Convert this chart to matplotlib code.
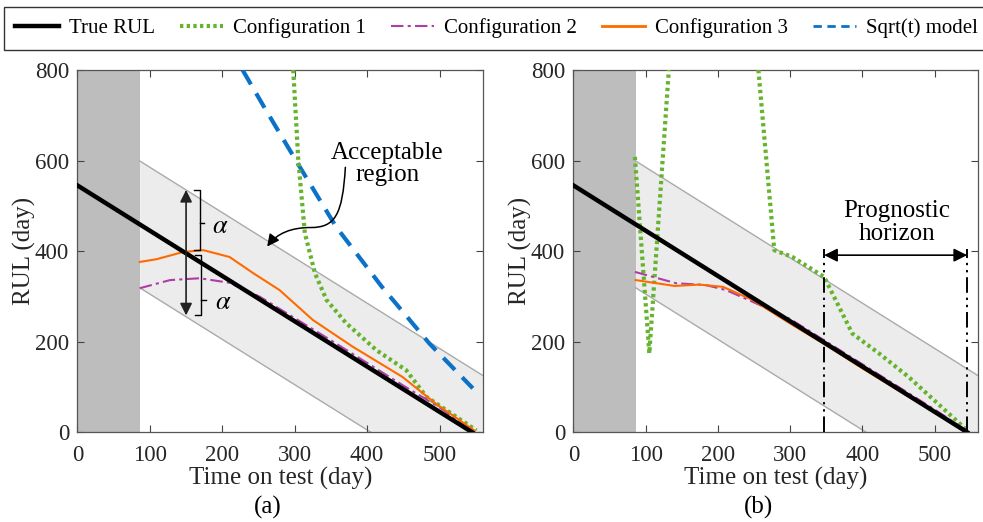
import numpy as np
import matplotlib
matplotlib.use("Agg")
import matplotlib.pyplot as plt
from matplotlib.path import Path
from matplotlib.patches import FancyArrowPatch
from matplotlib.lines import Line2D

plt.rcParams['font.family'] = ['Liberation Serif', 'DejaVu Serif']
plt.rcParams['mathtext.fontset'] = 'stix'

# ---------------- data ----------------
t_true = [0, 545]
rul_true = [545, 0]
alpha = 140
t_band = [86, 560]
t_train_end = 86

xticks = [0, 100, 200, 300, 400, 500]
yticks = [0, 200, 400, 600, 800]

# panel (a)
a_c1_t = [298, 305, 314, 328, 344, 371, 413, 454, 482, 551]
a_c1_y = [800, 601, 440, 351, 292, 241, 181, 137, 78, 4]
a_c2_t = [86, 128, 169, 210, 252, 300, 350, 400, 450, 500, 548]
a_c2_y = [318, 336, 340, 330, 299, 252, 203, 153, 103, 55, 0]
a_c3_t = [86, 109, 146, 174, 210, 243, 279, 325, 380, 449, 463, 495, 548]
a_c3_y = [376, 382, 398, 402, 387, 351, 314, 248, 189, 122, 104, 63, 4]
a_sq_t = [228, 260, 307, 357, 420, 486, 546]
a_sq_y = [800, 712, 586, 454, 322, 196, 97]

# panel (b)
b_c1_t = [85, 105, 132, np.nan, 256, 278, 303, 347, 386, 423, 464, 545]
b_c1_y = [608, 174, 800, np.nan, 800, 402, 387, 343, 218, 174, 122, 4]
b_c2_t = [85, 142, 183, 211, 248, 300, 350, 400, 450, 500, 545]
b_c2_y = [354, 329, 325, 314, 288, 250, 200, 150, 100, 50, 3]
b_c3_t = [86, 140, 174, 207, 248, 300, 350, 400, 450, 500, 545]
b_c3_y = [336, 323, 326, 321, 292, 240, 192, 141, 92, 44, 0]
horizon_t = [347, 545]

legend_labels = ['True RUL', 'Configuration 1', 'Configuration 2',
                 'Configuration 3', 'Sqrt(t) model']

# ---------------- styles ----------------
C_TRUE = 'black'
C_C1 = '#66B32E'
C_C2 = '#B03CA8'
C_C3 = '#FF6A00'
C_SQ = '#0B72C8'
FS_LEG = 15
FS_TICK = 16.5
FS_LAB = 18
FS_TXT = 18

fig = plt.figure(figsize=(9.83, 5.22), dpi=100)
axa = fig.add_axes([0.0788, 0.172, 0.4125, 0.694])
axb = fig.add_axes([0.5834, 0.172, 0.4115, 0.694])


def base(ax):
    ax.set_xlim(0, 560)
    ax.set_ylim(0, 800)
    ax.axvspan(0, t_train_end, color='#bdbdbd', lw=0, zorder=0)
    tb = np.array(t_band, dtype=float)
    slope = (rul_true[1] - rul_true[0]) / (t_true[1] - t_true[0])
    true_at = rul_true[0] + slope * (tb - t_true[0])
    ax.fill_between(tb, true_at - alpha, true_at + alpha, color='#ececec', lw=0, zorder=0.5)
    ax.plot(tb, true_at + alpha, color='#aaaaaa', lw=1, zorder=1)
    ax.plot(tb, true_at - alpha, color='#aaaaaa', lw=1, zorder=1)
    ax.set_xticks(xticks)
    ax.set_yticks(yticks)
    ax.tick_params(direction='in', top=True, right=True, length=5, labelsize=FS_TICK,
                   color='#444444', labelcolor='#262626')
    ax.tick_params(axis='x', pad=9)
    ax.tick_params(axis='y', pad=6)
    for s in ax.spines.values():
        s.set_color('#555555')
        s.set_linewidth(0.9)
    ax.set_xlabel('Time on test (day)', fontsize=FS_LAB, labelpad=1, color='#262626')
    ax.set_ylabel('RUL (day)', fontsize=FS_LAB, labelpad=-1, color='#262626')


base(axa)
base(axb)

# panel (a)
axa.plot(a_sq_t, a_sq_y, color=C_SQ, lw=3, ls=(0, (4, 2.5)), zorder=3)
axa.plot(a_c1_t, a_c1_y, color=C_C1, lw=3, ls=(0, (0.8, 0.8)), zorder=3)
axa.plot(a_c2_t, a_c2_y, color=C_C2, lw=1.5, ls=(0, (6, 2, 1.5, 2)), zorder=3)
axa.plot(a_c3_t, a_c3_y, color=C_C3, lw=1.5, zorder=3)
axa.plot(t_true, rul_true, color=C_TRUE, lw=3.2, zorder=4)

# alpha arrow and brackets
axa.annotate('', xy=(150, 535), xytext=(150, 258),
             arrowprops=dict(arrowstyle='<|-|>', color='#222222', lw=1.2,
                             mutation_scale=18, shrinkA=0, shrinkB=0), zorder=5)
axa.plot([161, 169, 169, 161], [535, 535, 402, 402], color='black', lw=1, zorder=5)
axa.plot([169, 175], [462, 462], color='black', lw=1, zorder=5)
axa.plot([163, 171, 171, 163], [391, 391, 259, 259], color='black', lw=1, zorder=5)
axa.plot([171, 177], [292, 292], color='black', lw=1, zorder=5)
axa.text(197, 454, r'$\alpha$', fontsize=FS_TXT + 1, ha='center', va='center', zorder=6)
axa.text(201, 285, r'$\alpha$', fontsize=FS_TXT + 1, ha='center', va='center', zorder=6)

axa.text(428, 592, 'Acceptable\nregion', fontsize=FS_TXT, ha='center', va='center',
         linespacing=1.0, zorder=6)
verts = [(370, 585), (366, 480), (356, 452), (322, 452),
         (296, 452), (276, 440), (262, 410)]
codes = [Path.MOVETO, Path.CURVE4, Path.CURVE4, Path.CURVE4,
         Path.CURVE4, Path.CURVE4, Path.CURVE4]
arr = FancyArrowPatch(path=Path(verts, codes), arrowstyle='-|>', mutation_scale=18,
                      color='black', lw=1.1, zorder=6)
axa.add_patch(arr)

# panel (b)
axb.plot(b_c1_t, b_c1_y, color=C_C1, lw=3, ls=(0, (0.8, 0.8)), zorder=3)
axb.plot(b_c2_t, b_c2_y, color=C_C2, lw=1.5, ls=(0, (6, 2, 1.5, 2)), zorder=3)
axb.plot(b_c3_t, b_c3_y, color=C_C3, lw=1.5, zorder=3)
axb.plot(t_true, rul_true, color=C_TRUE, lw=3.2, zorder=4)
for th in horizon_t:
    axb.plot([th, th], [0, 405], color='black', lw=1.4,
             ls=(0, (8, 2.5, 1.2, 2.5, 1.2, 2.5)), zorder=5)
axb.annotate('', xy=(horizon_t[0], 391), xytext=(horizon_t[1], 391),
             arrowprops=dict(arrowstyle='<|-|>', color='black', lw=1.2,
                             mutation_scale=20, shrinkA=0, shrinkB=0), zorder=5)
axb.text(448, 463, 'Prognostic\nhorizon', fontsize=FS_TXT, ha='center', va='center',
         linespacing=1.1, zorder=6)

fig.text(0.272, 0.028, '(a)', fontsize=FS_LAB, ha='center', va='center')
fig.text(0.772, 0.028, '(b)', fontsize=FS_LAB, ha='center', va='center')

handles = [
    Line2D([], [], color=C_TRUE, lw=3.2),
    Line2D([], [], color=C_C1, lw=3, ls=(0, (0.8, 0.8))),
    Line2D([], [], color=C_C2, lw=1.5, ls=(0, (6, 2, 1.5, 2))),
    Line2D([], [], color=C_C3, lw=2),
    Line2D([], [], color=C_SQ, lw=2, ls=(0, (3, 2))),
]
leg = fig.legend(handles, legend_labels, loc='upper left', ncol=5,
                 bbox_to_anchor=(0.004, 0.987), fontsize=FS_LEG,
                 frameon=True, fancybox=False, edgecolor='black',
                 handlelength=2.1, handletextpad=0.45, columnspacing=1.2,
                 borderpad=0.55, borderaxespad=0.0)
leg.get_frame().set_linewidth(1.0)

fig.savefig('out.png', dpi=100)
